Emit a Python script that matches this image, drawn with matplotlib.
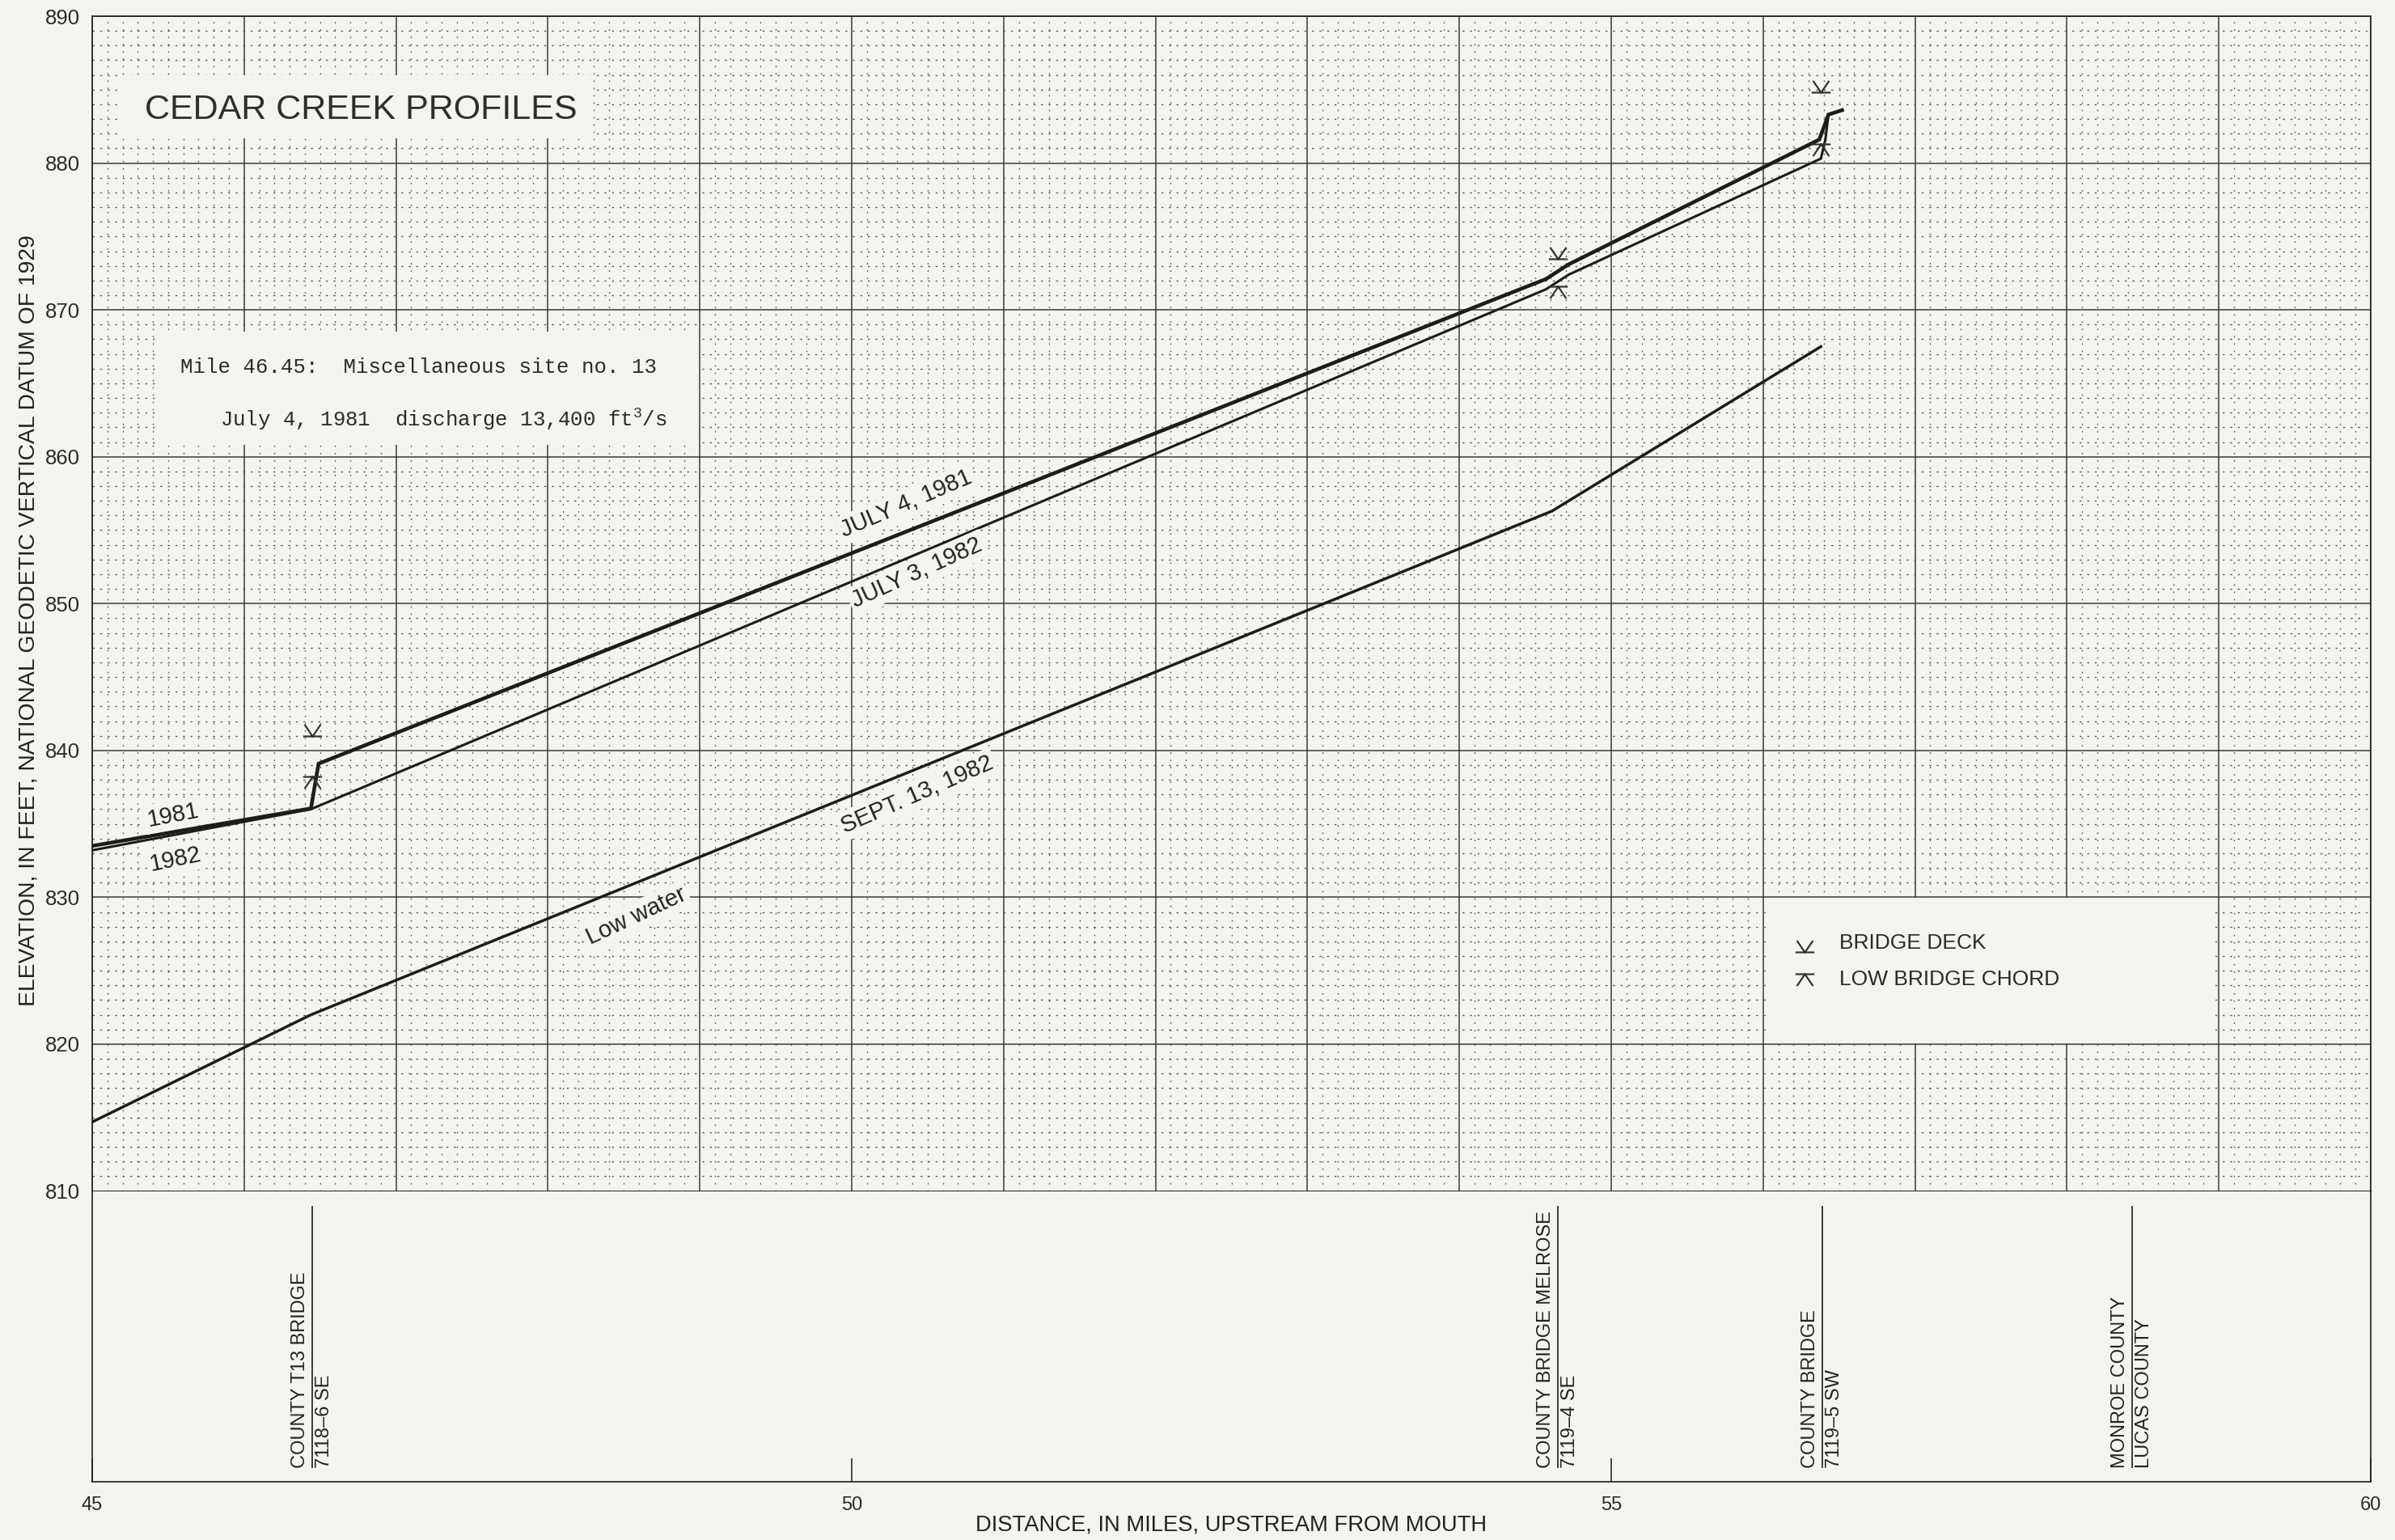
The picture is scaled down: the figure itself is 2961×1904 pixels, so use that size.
import numpy as np
import matplotlib
matplotlib.use("Agg")
import matplotlib.pyplot as plt
from matplotlib.path import Path
from matplotlib.patches import Rectangle
from matplotlib.ticker import MultipleLocator

# ---------------------------------------------------------------
# Water-surface profiles: river mile upstream from mouth, elevation (ft)
# ---------------------------------------------------------------
mile_1981 = [45.0, 46.44, 46.49, 54.57, 54.72, 56.37, 56.43, 56.52]
elev_1981 = [833.5, 836.05, 839.1, 872.1, 873.1, 881.6, 883.3, 883.6]

mile_1982 = [45.0, 46.44, 54.57, 54.72, 56.38, 56.41, 56.43, 56.52]
elev_1982 = [833.2, 836.0, 871.4, 872.4, 880.3, 881.6, 883.3, 883.6]

mile_low = [45.0, 46.44, 54.61, 56.38]
elev_low = [814.7, 822.0, 856.3, 867.5]

# Bridge deck and low-chord elevations
bridge_mile = [46.45, 54.65, 56.38]
bridge_deck = [841.0, 873.5, 884.8]
bridge_chord = [838.2, 871.6, 881.3]

# Landmarks listed in the strip under the profile
landmark_mile = [46.45, 54.65, 56.39, 58.43]
landmark_left = ["COUNTY T13 BRIDGE", "COUNTY BRIDGE MELROSE", "COUNTY BRIDGE", "MONROE COUNTY"]
landmark_right = ["7118\u20136 SE", "7119\u20134 SE", "7119\u20135 SW", "LUCAS COUNTY"]

x_ticks = [45, 50, 55, 60]
x_tick_labels = ["45", "50", "55", "60"]
y_ticks = [810, 820, 830, 840, 850, 860, 870, 880, 890]
y_tick_labels = ["810", "820", "830", "840", "850", "860", "870", "880", "890"]

title = "CEDAR CREEK PROFILES"
site_line1 = "Mile 46.45:  Miscellaneous site no. 13"
site_line2 = r"July 4, 1981  discharge 13,400 ft$^\mathregular{3}$/s"
x_label = "DISTANCE, IN MILES, UPSTREAM FROM MOUTH"
y_label = "ELEVATION, IN FEET, NATIONAL GEODETIC VERTICAL DATUM OF 1929"

# ---------------------------------------------------------------
bg = "#f3f3f1"
ink = "#1c1c1c"
plt.rcParams["font.family"] = ["Liberation Sans", "DejaVu Sans"]
plt.rcParams["lines.scale_dashes"] = False
mono = ["Liberation Mono", "DejaVu Sans Mono"]

W, H = 2961, 1904
L, R = 114, 2931
T, B, BB = 20, 1472.5, 1832

fig = plt.figure(figsize=(W / 100, H / 100), dpi=100, facecolor=bg)
ax = fig.add_axes([L / W, 1 - B / H, (R - L) / W, (B - T) / H])
axb = fig.add_axes([L / W, 1 - BB / H, (R - L) / W, (BB - B) / H])
for a in (ax, axb):
    a.set_facecolor(bg)
    for s in a.spines.values():
        s.set_color(ink)
        s.set_linewidth(1.2)

# ---- profile axes ----
ax.set_xlim(45, 60)
ax.set_ylim(810, 890)
ax.xaxis.set_major_locator(MultipleLocator(1))
ax.xaxis.set_minor_locator(MultipleLocator(0.1))
ax.set_yticks(y_ticks)
ax.set_yticklabels(y_tick_labels)
ax.yaxis.set_minor_locator(MultipleLocator(1))
ax.tick_params(axis="x", which="both", length=0, labelbottom=False)
ax.tick_params(axis="y", which="both", length=0, pad=11, labelsize=18.5, labelcolor="#2a2a2a")
ax.set_axisbelow(True)
ax.grid(True, which="major", color="#3a3a3a", lw=1.1, ls="-")
ax.grid(True, which="minor", axis="x", color="#5a5a5a", lw=1.0, ls=(0, (1.3, 5.2)))
ax.grid(True, which="minor", axis="y", color="#5a5a5a", lw=1.0, ls=(0, (1.8, 4.9)))

# blank panels on the graph paper
for (x0, y0, w, h) in [(45.18, 881.7, 3.11, 4.3), (45.44, 860.8, 3.55, 7.7), (56.02, 820.06, 2.96, 9.88)]:
    ax.add_patch(Rectangle((x0, y0), w, h, facecolor=bg, edgecolor="none", zorder=1))

ax.plot(mile_low, elev_low, color=ink, lw=2.5, zorder=2.5, solid_joinstyle="miter")
ax.plot(mile_1982, elev_1982, color=ink, lw=2.2, zorder=2.6, solid_joinstyle="miter")
ax.plot(mile_1981, elev_1981, color=ink, lw=3.3, zorder=2.7, solid_joinstyle="miter")

codes = [Path.MOVETO, Path.LINETO, Path.MOVETO, Path.LINETO, Path.LINETO]
deck_marker = Path([(-1, 0), (1, 0), (-0.85, 1.25), (0, 0), (0.85, 1.25)], codes)
chord_marker = Path([(-1, 0), (1, 0), (-0.85, -1.25), (0, 0), (0.85, -1.25)], codes)
mk = dict(ls="none", ms=21, mfc="none", mec="#333333", mew=1.6, zorder=3)
ax.plot(bridge_mile, bridge_deck, marker=deck_marker, **mk)
ax.plot(bridge_mile, bridge_chord, marker=chord_marker, **mk)

# legend panel
ax.plot([56.27], [826.3], marker=deck_marker, **mk)
ax.plot([56.27], [824.8], marker=chord_marker, **mk)
ax.text(56.50, 826.5, "BRIDGE DECK", fontsize=19, color="#2a2a2a", va="baseline", ha="left")
ax.text(56.50, 824.0, "LOW BRIDGE CHORD", fontsize=19, color="#2a2a2a", va="baseline", ha="left")

# title and site note
ax.text(46.77, 883.0, title, fontsize=31, color="#2e2e2e", ha="center", va="baseline")
ax.text(45.58, 865.7, site_line1, family=mono, fontsize=18.5, color="#2a2a2a", ha="left", va="baseline")
ax.text(45.84, 862.1, site_line2, family=mono, fontsize=18.5, color="#2a2a2a", ha="left", va="baseline")


def seg_angle(xs, ys, i):
    p0 = ax.transData.transform((xs[i], ys[i]))
    p1 = ax.transData.transform((xs[i + 1], ys[i + 1]))
    return np.degrees(np.arctan2(p1[1] - p0[1], p1[0] - p0[0]))


lab = dict(fontsize=21, color="#222222", ha="center", va="center", rotation_mode="anchor", zorder=4,
           bbox=dict(facecolor=bg, edgecolor="none", pad=3))
ax.text(50.36, 856.8, "JULY 4, 1981", rotation=seg_angle(mile_1981, elev_1981, 2) + 1.5, **lab)
ax.text(50.43, 852.1, "JULY 3, 1982", rotation=seg_angle(mile_1982, elev_1982, 1) + 1.5, **lab)
ax.text(50.43, 837.0, "SEPT. 13, 1982", rotation=seg_angle(mile_low, elev_low, 1) + 1.5, **lab)
ax.text(48.58, 828.7, "Low water", rotation=seg_angle(mile_low, elev_low, 1) + 3, **lab)
ax.text(45.53, 835.6, "1981", rotation=seg_angle(mile_1981, elev_1981, 0) + 1, **lab)
ax.text(45.55, 832.6, "1982", rotation=seg_angle(mile_1982, elev_1982, 0) + 1, **lab)

# ---- landmark strip ----
axb.set_xlim(45, 60)
axb.set_ylim(0, 1)
axb.set_yticks([])
axb.set_xticks(x_ticks)
axb.set_xticklabels(x_tick_labels)
axb.tick_params(axis="x", direction="in", length=21, width=1.1, color=ink, pad=13,
                labelsize=17, labelcolor="#2a2a2a")
axb.spines["top"].set_visible(False)
axb.vlines(landmark_mile, 0.047, 0.949, color=ink, lw=1.2)
for m, lt, rt in zip(landmark_mile, landmark_left, landmark_right):
    axb.annotate(lt, xy=(m, 0.047), xytext=(-3, 0), textcoords="offset points", rotation=90,
                 ha="right", va="bottom", fontsize=17, color="#222222")
    axb.annotate(rt, xy=(m, 0.047), xytext=(3, 0), textcoords="offset points", rotation=90,
                 ha="left", va="bottom", fontsize=17, color="#222222")

fig.text(36 / W, 1 - 767 / H, y_label, rotation=90, ha="center", va="center", fontsize=20.3, color="#222222")
fig.text(1522 / W, 1 - 1885 / H, x_label, ha="center", va="center", fontsize=19.7, color="#222222")

fig.savefig("out.png", dpi=100, facecolor=bg)
